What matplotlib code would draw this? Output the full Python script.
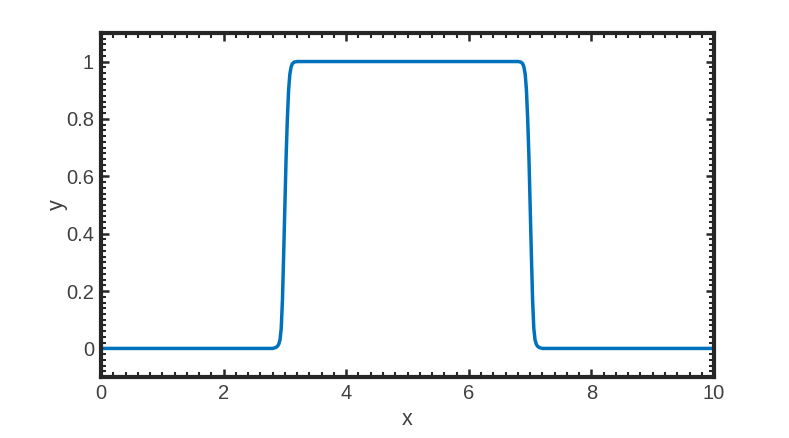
import matplotlib.pyplot as plt
from matplotlib.ticker import MultipleLocator

# values
x_vals = [0, 2.80, 2.85, 2.88, 2.90, 2.92, 2.94, 2.96, 2.98, 3.00, 3.02, 3.04, 3.06, 3.08, 3.10, 3.12, 3.15, 3.20,
          6.80, 6.85, 6.88, 6.90, 6.92, 6.94, 6.96, 6.98, 7.00, 7.02, 7.04, 7.06, 7.08, 7.10, 7.12, 7.15, 7.20, 10]
y_vals = [0, 0.000, 0.003, 0.008, 0.015, 0.030, 0.070, 0.170, 0.330, 0.500, 0.670, 0.800, 0.900, 0.955, 0.980, 0.992, 0.998, 1.000,
          1.000, 0.998, 0.992, 0.980, 0.955, 0.900, 0.800, 0.670, 0.500, 0.330, 0.170, 0.070, 0.030, 0.015, 0.008, 0.003, 0.000, 0]
x_ticks = [0, 2, 4, 6, 8, 10]
y_ticks = [0, 0.2, 0.4, 0.6, 0.8, 1]
y_tick_labels = ['0', '0.2', '0.4', '0.6', '0.8', '1']

plt.rcParams['font.family'] = ['Liberation Sans', 'DejaVu Sans']
txt = '#404040'
frame = '#262626'

fig = plt.figure(figsize=(7.89, 4.38), dpi=100)
ax = fig.add_axes([0.128, 0.139, 0.777, 0.786])

ax.plot(x_vals, y_vals, color='#0072BD', linewidth=2.5)

ax.set_xlim(0, 10)
ax.set_ylim(-0.1, 1.1)
ax.set_xticks(x_ticks)
ax.set_yticks(y_ticks)
ax.set_yticklabels(y_tick_labels)
ax.xaxis.set_minor_locator(MultipleLocator(0.2))
ax.yaxis.set_minor_locator(MultipleLocator(0.02))

ax.tick_params(which='both', direction='in', top=True, right=True, color=frame,
               labelcolor=txt, labelsize=14.5)
ax.tick_params(which='major', length=5.5, width=1.8, pad=5)
ax.tick_params(which='minor', length=3.5, width=1.5)
for s in ax.spines.values():
    s.set_linewidth(3)
    s.set_color(frame)

ax.set_xlabel('x', fontsize=15.5, color=txt, labelpad=4.5)
ax.set_ylabel('y', fontsize=15.5, color=txt, labelpad=-1.5)

fig.savefig('out.png', dpi=100)
